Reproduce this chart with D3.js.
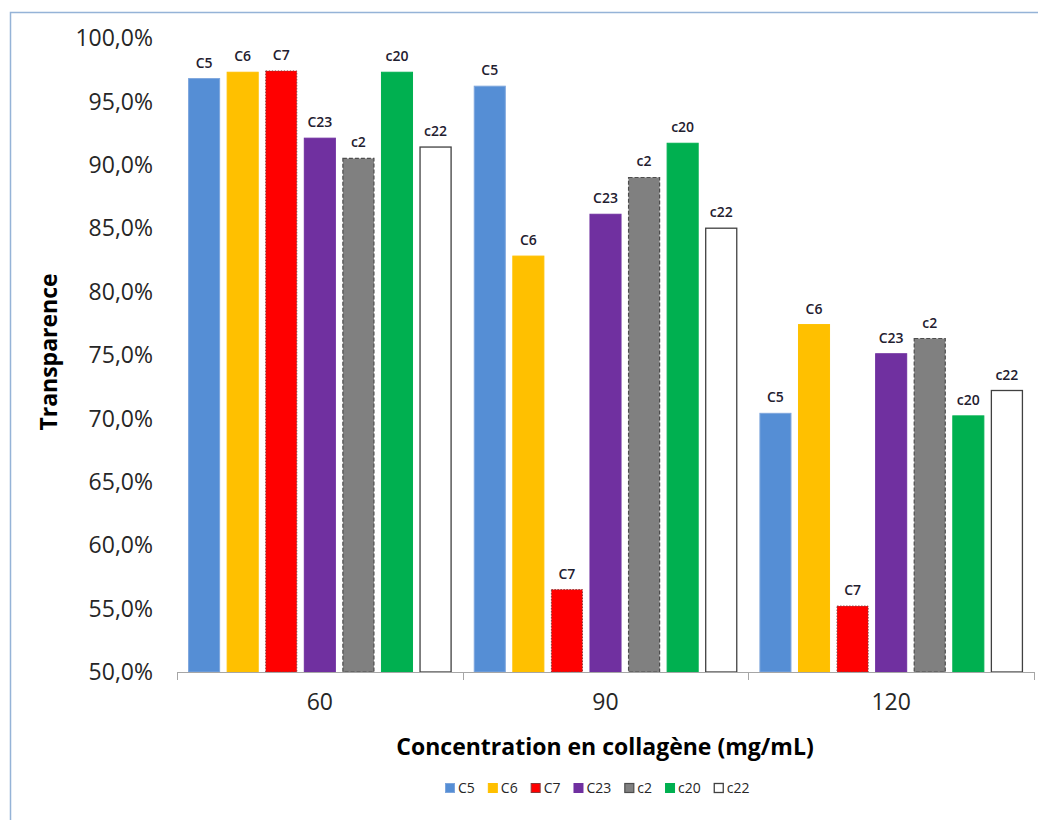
<!DOCTYPE html>
<html><head><meta charset="utf-8">
<script src="https://cdn.jsdelivr.net/npm/d3@7"></script>
<style>body{margin:0;background:#fff}svg{display:block}</style>
</head><body><svg id="c" width="1038" height="820"></svg>
<script>
const categories = ["60","90","120"];
const seriesNames = ["C5","C6","C7","C23","c2","c20","c22"];
const C5  = [96.8, 96.2, 70.4];
const C6  = [97.3, 82.8, 77.4];
const C7  = [97.4, 56.5, 55.2];
const C23 = [92.1, 86.1, 75.1];
const c2  = [90.5, 89.0, 76.3];
const c20 = [97.3, 91.7, 70.2];
const c22 = [91.4, 85.0, 72.2];
const yTicks = [50,55,60,65,70,75,80,85,90,95,100];
const seriesValues = [C5,C6,C7,C23,c2,c20,c22];
const styles = [
  {fill:"#558ed5", stroke:"#7ea6dd", dash:null, sw:1},
  {fill:"#ffc000", stroke:"#ffc000", dash:null, sw:1},
  {fill:"#ff0000", stroke:"#8a3a3a", dash:"1.5,1.5", sw:1},
  {fill:"#7030a0", stroke:"#7030a0", dash:null, sw:1},
  {fill:"#808080", stroke:"#4d4d4d", dash:"4,2", sw:1.2},
  {fill:"#00b050", stroke:"#00b050", dash:null, sw:1},
  {fill:"#ffffff", stroke:"#404040", dash:null, sw:1.3}
];
const font = "'Open Sans', 'Noto Sans', sans-serif";
const svg = d3.select("#c");
svg.append("rect").attr("x",10.5).attr("y",12.5).attr("width",1040).attr("height",820)
  .attr("fill","#fff").attr("stroke","#95b3d7").attr("stroke-width",1.5);

const pLeft=177, pRight=1034, pTop=38, pBottom=672;
const x0 = d3.scaleBand().domain(categories).range([pLeft,pRight]).padding(0);
const x1 = d3.scaleBand().domain(seriesNames).range([0,x0.bandwidth()]).paddingInner(0.195).paddingOuter(0.3);
const y = d3.scaleLinear().domain([50,100]).range([pBottom,pTop]);

// y tick labels
const fmt = v => v.toFixed(1).replace(".",",")+"%";
svg.append("g").selectAll("text").data(yTicks).join("text")
  .attr("x",153).attr("y",d=>y(d)).attr("dy","0.36em").attr("text-anchor","end")
  .attr("font-family",font).attr("font-size",23).attr("fill","#262626").text(fmt);

// bars
const data = [];
categories.forEach((c,i)=>seriesNames.forEach((s,j)=>data.push({c,s,j,v:seriesValues[j][i]})));
const g = svg.append("g");
g.selectAll("rect").data(data).join("rect")
  .attr("x",d=>x0(d.c)+x1(d.s)).attr("width",x1.bandwidth())
  .attr("y",d=>y(d.v)).attr("height",d=>y(50)-y(d.v))
  .attr("fill",d=>styles[d.j].fill).attr("stroke",d=>styles[d.j].stroke)
  .attr("stroke-width",d=>styles[d.j].sw).attr("stroke-dasharray",d=>styles[d.j].dash);
g.selectAll("text").data(data).join("text")
  .attr("x",d=>x0(d.c)+x1(d.s)+x1.bandwidth()/2).attr("y",d=>y(d.v)-11)
  .attr("text-anchor","middle").attr("font-family",font).attr("font-size",14).attr("font-weight",600)
  .attr("fill","#1f2030").text(d=>d.s);

// x axis
const xa = svg.append("g").attr("transform",`translate(0,${pBottom})`)
  .call(d3.axisBottom(x0).tickSize(0).tickPadding(22));
xa.select(".domain").remove();
xa.append("line").attr("x1",pLeft).attr("x2",pRight).attr("y1",0.5).attr("y2",0.5).attr("stroke","#a6a6a6");
const bounds = categories.map(c=>x0(c)).concat([x0(categories[categories.length-1])+x0.bandwidth()]);
xa.selectAll(".sep").data(bounds).join("line").attr("class","sep")
  .attr("x1",d=>Math.round(d)+0.5).attr("x2",d=>Math.round(d)+0.5).attr("y1",0).attr("y2",8).attr("stroke","#a6a6a6");
xa.selectAll(".tick text").attr("font-family",font).attr("font-size",23).attr("fill","#262626");

// titles
svg.append("text").attr("transform","translate(57,352) rotate(-90)").attr("text-anchor","middle")
  .attr("font-family","'Liberation Sans Narrow','Open Sans',sans-serif").attr("font-weight","bold").attr("font-size",23)
  .attr("fill","#000").text("Transparence");
svg.append("text").attr("x",605).attr("y",755).attr("text-anchor","middle")
  .attr("font-family",font).attr("font-weight","bold").attr("font-size",23)
  .attr("fill","#000").text("Concentration en collagène (mg/mL)");

// legend
const lg = svg.append("g");
let lx = 445; const ly = 788;
seriesNames.forEach((s,j)=>{
  lg.append("rect").attr("x",lx+0.5).attr("y",ly-4.5).attr("width",9).attr("height",9)
    .attr("fill",styles[j].fill).attr("stroke",styles[j].stroke).attr("stroke-width",styles[j].sw);
  const t = lg.append("text").attr("x",lx+13).attr("y",ly).attr("dy","0.35em")
    .attr("font-family",font).attr("font-size",14).attr("fill","#262626").text(s);
  lx += 13 + t.node().getComputedTextLength() + 13;
});
</script></body></html>
